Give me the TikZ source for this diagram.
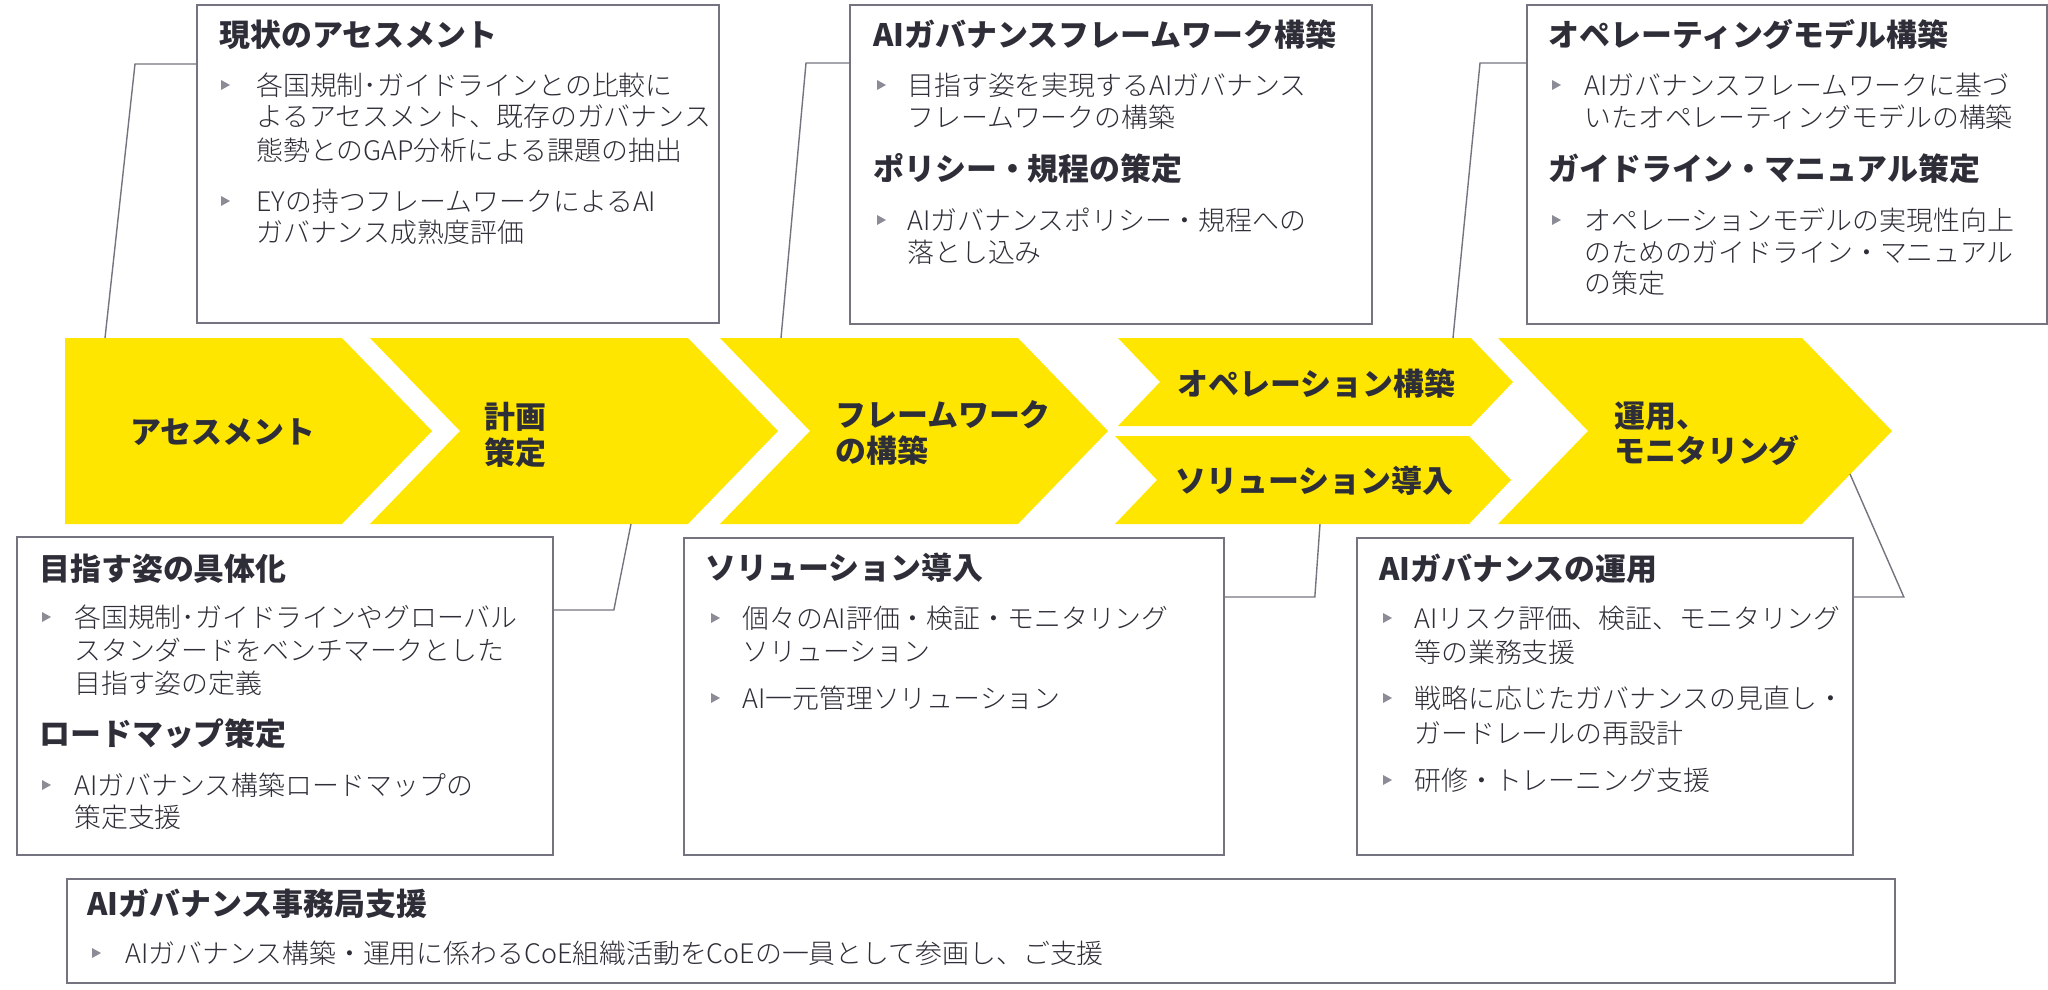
\documentclass[tikz,border=0pt]{standalone}
\usepackage{fontspec}
\setmainfont{Noto Sans CJK JP}
\IfFontExistsTF{Noto Sans CJK JP Light}
  {\newfontfamily\thinfont{Noto Sans CJK JP Light}}
  {\newfontfamily\thinfont{Noto Sans CJK JP}}
\usepackage{xcolor}
\usepackage{tikz}
\usetikzlibrary{calc}

\definecolor{eyyellow}{HTML}{FFE600}
\definecolor{ink}{HTML}{2E2E38}
\definecolor{frame}{HTML}{747480}
\definecolor{pointer}{HTML}{8C8C96}

\tikzset{
  box/.style={draw=frame, line width=1.1pt, fill=white, inner sep=0, anchor=north west},
  conn/.style={draw=frame, line width=0.8pt},
  chev/.style={fill=eyyellow},
  ttl/.style={anchor=base west, inner sep=0, text=ink, font=\bfseries\fontsize{17.6}{20}\selectfont},
  stage/.style={anchor=base west, inner sep=0, text=ink, font=\bfseries\fontsize{17.6}{20}\selectfont},
  txt/.style={anchor=base west, inner sep=0, text=ink, font=\thinfont\fontsize{15.3}{18}\selectfont}
}
% small grey triangle in front of a list item
\newcommand\bullmark[2]{\fill[pointer] (#1,#2) ++(0,-5) -- ++(9,5) -- ++(-9,5) -- cycle;}

\begin{document}
\begin{tikzpicture}[x=0.02cm,y=-0.02cm]
\useasboundingbox (0,0) rectangle (2048,990);

% stages
\foreach \l/\r/\t/\b/\n/\d in {65/342/338/524/0/90, 370/688/338/524/90/90,
    720/1018/338/524/90/90, 1118/1471/338/426/42/42, 1115/1469/436/524/42/42,
    1498/1802/338/524/90/90}
  \fill[chev] (\l,\t) -- (\r,\t) -- ({\r+\d},{(\t+\b)/2}) -- (\r,\b) -- (\l,\b)
    -- ({\l+\n},{(\t+\b)/2}) -- cycle;

\node[stage] (s-asmt) at (130,443) {アセスメント};
\node[stage] (s-plan1) at (484,428) {計画};
\node[stage] (s-plan2) at (484,464) {策定};
\node[stage] (s-fwk1) at (835,426) {フレームワーク};
\node[stage] (s-fwk2) at (835,462) {の構築};
\node[stage] (s-ops) at (1177,395) {オペレーション構築};
\node[stage] (s-sol) at (1175,492) {ソリューション導入};
\node[stage] (s-run1) at (1614,427) {運用、};
\node[stage] (s-run2) at (1614,462) {モニタリング};

\coordinate (asmt-in) at (105,338);
\coordinate (fwk-in) at (781,338);
\coordinate (ops-in) at (1453,338);
\coordinate (plan-out) at (631,524);
\coordinate (sol-out) at (1320,524);
\coordinate (run-out) at (1850,474);

% upper boxes
\node[box, minimum width=10.44cm, minimum height=6.36cm] (asmt) at (196,4) {};
\node[ttl] (asmt-t) at (219,47) {現状のアセスメント};
\foreach \y/\s [count=\i] in {95/各国規制･ガイドラインとの比較に, 127/よるアセスメント、既存のガバナンス,
    160/態勢とのGAP分析による課題の抽出, 211/EYの持つフレームワークによるAI, 242/ガバナンス成熟度評価}
  \node[txt] (asmt-\i) at (256,\y) {\s};
\bullmark{221}{85} \bullmark{221}{201}

\node[box, minimum width=10.44cm, minimum height=6.38cm] (fwk) at (849,4) {};
\node[ttl] (fwk-t) at (873,47) {AIガバナンスフレームワーク構築};
\node[ttl] (fwk-t2) at (873,180) {ポリシー・規程の策定};
\foreach \y/\s [count=\i] in {95/目指す姿を実現するAIガバナンス, 128/フレームワークの構築,
    230/AIガバナンスポリシー・規程への, 262/落とし込み}
  \node[txt] (fwk-\i) at (907,\y) {\s};
\bullmark{877}{85} \bullmark{877}{220}

\node[box, minimum width=10.4cm, minimum height=6.38cm] (opm) at (1526,4) {};
\node[ttl] (opm-t) at (1548,47) {オペレーティングモデル構築};
\node[ttl] (opm-t2) at (1548,180) {ガイドライン・マニュアル策定};
\foreach \y/\s [count=\i] in {95/AIガバナンスフレームワークに基づ, 128/いたオペレーティングモデルの構築,
    230/オペレーションモデルの実現性向上, 262/のためのガイドライン・マニュアル, 293/の策定}
  \node[txt] (opm-\i) at (1584,\y) {\s};
\bullmark{1552}{85} \bullmark{1552}{220}

% lower boxes
\node[box, minimum width=10.72cm, minimum height=6.36cm] (goal) at (16,536) {};
\node[ttl] (goal-t) at (39,580) {目指す姿の具体化};
\node[ttl] (goal-t2) at (39,745) {ロードマップ策定};
\foreach \y/\s [count=\i] in {627/各国規制･ガイドラインやグローバル, 660/スタンダードをベンチマークとした,
    693/目指す姿の定義, 795/AIガバナンス構築ロードマップの, 827/策定支援}
  \node[txt] (goal-\i) at (74,\y) {\s};
\bullmark{42}{617} \bullmark{42}{785}

\node[box, minimum width=10.8cm, minimum height=6.34cm] (sol) at (683,537) {};
\node[ttl] (sol-t) at (705,579) {ソリューション導入};
\foreach \y/\s [count=\i] in {628/個々のAI評価・検証・モニタリング, 661/ソリューション, 708/AI一元管理ソリューション}
  \node[txt] (sol-\i) at (742,\y) {\s};
\bullmark{711}{618} \bullmark{711}{698}

\node[box, minimum width=9.92cm, minimum height=6.34cm] (run) at (1356,537) {};
\node[ttl] (run-t) at (1379,580) {AIガバナンスの運用};
\foreach \y/\s [count=\i] in {628/AIリスク評価、検証、モニタリング, 662/等の業務支援,
    708/戦略に応じたガバナンスの見直し・, 743/ガードレールの再設計, 790/研修・トレーニング支援}
  \node[txt] (run-\i) at (1414,\y) {\s};
\bullmark{1383}{618} \bullmark{1383}{698} \bullmark{1383}{780}

% support banner
\node[box, minimum width=36.56cm, minimum height=2.08cm] (pmo) at (66,878) {};
\node[ttl] (pmo-t) at (87,915) {AIガバナンス事務局支援};
\node[txt] (pmo-1) at (125,963) {AIガバナンス構築・運用に係わるCoE組織活動をCoEの一員として参画し、ご支援};
\bullmark{92}{953}

% leaders
\draw[conn] (asmt.west |- 0,64) -- ++(-61,0) -- (asmt-in);
\draw[conn] (fwk.west |- 0,63) -- ++(-43,0) -- (fwk-in);
\draw[conn] (opm.west |- 0,63) -- ++(-46,0) -- (ops-in);
\draw[conn] (goal.east |- 0,610) -- ++(60,0) -- (plan-out);
\draw[conn] (sol.east |- 0,597) -- ++(90,0) -- (sol-out);
\draw[conn] (run.east |- 0,597) -- ++(50,0) -- (run-out);
\end{tikzpicture}
\end{document}
